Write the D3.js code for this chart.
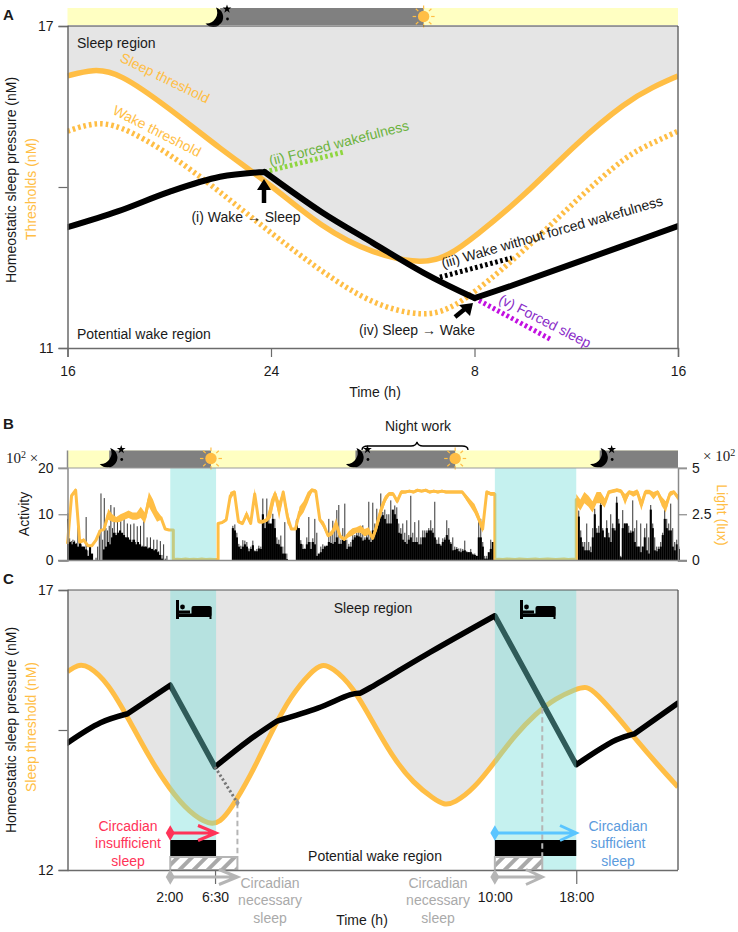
<!DOCTYPE html>
<html><head><meta charset="utf-8">
<script src="https://cdn.jsdelivr.net/npm/d3@7"></script>
<style>html,body{margin:0;padding:0;background:#fff}svg{display:block}text{font-family:"Liberation Sans",Arial,sans-serif;fill:#1a1a1a}</style>
</head><body><svg id="c" width="738" height="932"></svg>
<script>
// ---------- Panel A data (hours, nM)
const aSleepT=[16,17,18,20,22,24,26,28,30,31,32,34,36,38,39,40];
const aSleepV=[16.07,16.2,16.14,15.47,14.71,14.04,13.24,12.75,12.56,12.72,13.07,13.85,14.82,15.60,15.86,16.07];
const aWakeV=[15.04,15.2,15.17,14.63,13.91,13.14,12.42,11.8,11.58,11.72,12.03,12.83,13.76,14.6,14.82,15.04];
const aPressT=[16,18,20,22,23.75,26,28,30,32,33.5,37.7,40];
const aPressV=[13.25,13.55,13.91,14.19,14.28,13.53,12.96,12.40,11.93,12.17,12.88,13.27];
const aPressKinks=[4,8];
const forcedWakeT=[23.75,26.84],forcedWakeV=[14.28,14.65];
const noForcedT=[30.64,33.47],noForcedV=[12.32,12.68];
const forcedSleepT=[32,35.04],forcedSleepV=[11.93,11.15];
const aXTicks=[16,24,32,40],aYTicks=[17,14,11];
// ---------- Panel B data
const darkStart=[20.1,44.3,68.3],darkEnd=[30.1,54.1,76];
const sleepStart=[26.1,58],sleepEnd=[30.6,66];
const activityStep=0.1965;
const act1Start=16,act2Start=32.2,act3Start=66;
const act1Peak=[10.2,4.8,4.2,4.5,4.3,3.8,8.7,6.5,3.5,3,2.5,9.4,2.2,0,0,0,0,0.6,3,6.5,14.5,4.5,13.5,7,6.5,7.5,12,7,11.5,6,9,6,8.5,5.5,9,5,8,4.5,7.8,4.5,8,4,7.4,3.5,7.5,3.2,8.5,3,5,2.8,5,2.5,4.5,2.4,4.5,2,4.2,1.2,3.5,0.4,1];
const act1Base=[9,4,3.5,4,3.6,3,4.2,3,3,2.4,1,3,1.5,0,0,0,0,0,2.4,3,4,3.5,5,6,5.5,6,6.5,6,5.5,5,5,4.5,4,4.5,3.5,4,3.5,3,3,3,2.6,2.8,2.5,2.2,2.4,1.8,1.2,0.4,0,0,0];
const act2Peak=[7.5,7.8,6,3.6,3.2,4.4,4.3,4,2.6,3,4.3,2.2,2.5,3.2,3,13.4,8.6,13.4,9.5,
7,10.1,9,5,4.5,5.4,3,8.3,1.5,0,0,0,0,9,7,4.4,3.5,2.6,5,9.4,4,4.8,9,6,1,3,3.5,3.2,3,9,6,8.6,7,10.9,12,4.5,7,12.3,4.5,3.6,4,5.5,5.5,6,6.5,6,7.6,5,6.5,12.7,5.5,12.5,8,11.2,8,14.5,10.5,11,10,10,13,9,11.9,11.5,8,7,8,6,8.7,5.5,14,6,8.3,5,8.7,5,6.5,6.5,6.5,7,8.7,7,12.7,4.5,5,3.5,4.8,5,8.7,7,4,5,3,2.9,2.6,2.6,2.5,4.3,2,1.8,2.5,1.5,1.5,1,8.7,9,4,1,1,1,4.5,4,0];
const act2Base=[7,6.5,5,3,2.5,3,3.5,3,2,2.5,3.3,2,2,2.6,2.5,10,7,9,8,
8,9,7,3.6,3.5,3,1.5,1.5,0.3,0,0,0,0,8.7,7,3.6,2.5,2.5,3.5,4,2.5,4,3.5,1,1.5,1.8,2.5,3,3.2,4,3.8,3.6,4,5,3.6,3.6,5,4.5,2.5,3,3,4.5,5,5.4,5.2,5,4.3,4.5,5,4.5,4,6.5,6.5,7,8.5,9.5,9.8,9,8,8,8,11,10,9,6,5.8,4.5,4,3.6,4.5,5,4,4,4,3.5,3.5,5,5,6,6.5,6.5,6,5,3.6,3.6,3.2,4,4.5,5.5,4.5,3.6,2.2,2.3,2.5,2,1.8,2.1,2.2,1.8,1.8,1.8,1.3,1.2,1,5,5,3,0.4,0.4,1.8,2.5,4,0];
const act3Peak=[0,10.8,6.5,4,4,8,4,3,7,11.2,7,7.5,12.7,7,5,8.7,6,10,8,7,13.8,9,1,10.9,8,8,7.5,6.5,13,7,8.7,3,8,3,7,8,5,12,8,5,3,3,4,6,11.2,9,8,12.3,7,4,4.5,3];
const act3Base=[0,9.5,5,3,2.2,2.2,2.2,1.8,5,10,6,6,12,6.5,5,7,5,4,7,6.5,12.5,8,0.7,7,8,8,6,6,6.3,4,3,3,1.8,3,5,2.2,1.5,11,7,2.2,2,2.5,3,5.5,9,7,6.5,6.5,3,2.2,3.5,2.5];
const lightStep=0.4,lightStart=16;
const lightBreaks=[26,37,105,125];
const lightV=[0.9,3.5,3.8,1.0,1.1,0.8,0.8,1.1,1.6,1.7,2.5,2.3,2.2,2.3,2.4,2.5,2.4,2.4,2.6,2.3,3.3,2.9,2.4,2.3,1.7,1.65,
0.06,0.07,0.05,0.08,0.06,0.07,0.06,0.08,0.06,0.07,0.06,2.0,2.05,2.2,3.5,3.7,2.1,2,2.5,2.0,3.6,2.1,2.1,2.2,
2.8,3.6,2.7,3.7,2.4,1.7,1.7,2.6,2.9,3.4,3.8,3.75,2.2,1.9,1.35,1.5,2.0,1.3,1.15,1.4,1.55,1.65,1.7,1.5,1.6,1.2,1.9,2.7,3.3,3.6,3.6,3.2,3.7,
3.7,3.75,3.7,3.8,3.75,3.8,3.7,3.75,3.7,3.75,3.7,3.7,3.7,3.7,3.7,3.4,3.1,2.8,2.3,1.7,3.7,3.6,
0.06,0.07,0.06,0.08,0.07,0.06,0.08,0.07,0.06,0.07,0.08,0.06,0.07,0.08,0.07,0.06,0.07,0.08,0.06,0.07,
3.3,3.0,3.4,3.2,2.9,3.4,3.4,3.1,3.7,3.75,3.8,3.75,3.3,3.7,3.6,3.7,3.0,3.7,3.7,3.5,3.7,3.2,2.9,3.6,3.7,3.4];
const lightSpread=[.05,.1,.1,.1,.1,.05,.05,.05,.05,.05,
.3,.2,.15,.2,.2,.2,.2,.2,.3,.3,.4,.4,.3,.1,.05,.03,
0,0,0,0,0,0,0,0,0,0,0,
.03,.05,.1,.2,.1,.1,.1,.2,.1,.3,.1,.1,.1,
.5,.2,.5,.1,.4,.05,.05,.3,.3,.3,.1,.1,
.1,.2,.1,.15,.3,.1,.1,.15,.2,.15,.2,.2,.2,.1,
.3,.3,.2,.1,.1,.15,.1,
.08,.08,.08,.08,.08,.08,.08,.08,.08,.08,.08,.08,.08,.08,
.08,.15,.2,.25,.25,.2,.1,.1,
0,0,0,0,0,0,0,0,0,0,0,0,0,0,0,0,0,0,0,0,
.3,.3,.3,.3,.3,.3,.3,.25,.1,.1,.1,.1,.3,.1,.15,.15,.3,.12,.12,.2,.1,.25,.3,.15,.1,.15];
// ---------- Panel C data
const cThreshT=[16,17,18,20,22,24,26,28,30,31,32,34,36,38,40,41,42,44,46,48,50,52,53,54,56,58,60,62,64,66,67,68,70,72,74,76];
const cThreshV=[15.54,15.67,15.66,15.34,14.70,14.02,13.45,13.02,12.8,12.86,13.07,13.68,14.45,15.13,15.55,15.68,15.62,15.29,14.64,14.00,13.55,13.27,13.16,13.19,13.46,13.93,14.41,14.79,15.07,15.23,15.29,15.15,14.75,14.30,13.88,13.48];
const cPressT=[16,19.24,21.9,26.1,30.5,33.7,36.6,40.6,43.8,44.8,45.7,51.66,58,66,69.9,71.7,76];
const cPressV=[14.27,14.63,14.79,15.30,13.84,14.30,14.66,14.89,15.13,15.16,15.25,15.89,16.54,13.88,14.32,14.43,14.98];
const cPressKinks=[2,3,4,6,9,12,13,15];
const cXTicks=[26,30.5,58,66],cXLabels=["2:00","6:30","10:00","18:00"],cYTicks=[17,14.5,12];
const necT=[30.5,32.7],necV=[13.84,13.2];
const nec2T=62.66,nec2V=14.89;
// ---------- colours
const ORANGE="#FFBE45",GRAY="#E5E5E5",YEL="#FFFFC2",DK="#808080",AX="#6b6b6b";
const BAND="rgb(115,222,215)";
const svg=d3.select("#c");
const defs=svg.append("defs");
const pat=defs.append("pattern").attr("id","hatch").attr("width",10).attr("height",10).attr("patternUnits","userSpaceOnUse").attr("patternTransform","rotate(45)");
pat.append("rect").attr("width",10).attr("height",10).attr("fill","#fff");
pat.append("rect").attr("width",4).attr("height",10).attr("fill","#a9a9a9");
const L=67.5,R=678;
defs.append("clipPath").attr("id","clipA").append("rect").attr("x",L).attr("y",26).attr("width",R-L).attr("height",322);
defs.append("clipPath").attr("id","clipC").append("rect").attr("x",L).attr("y",590).attr("width",R-L).attr("height",280);
function txt(x,y,s,o={}){const t=svg.append("text").attr("x",x).attr("y",y).attr("dy","0.35em").attr("text-anchor",o.a||"middle").attr("font-size",o.s||14).text(s);
 if(o.c)t.style("fill",o.c); if(o.r!==undefined)t.attr("transform",`rotate(${o.r} ${x} ${y})`); if(o.w)t.attr("font-weight",o.w); if(o.f)t.style("font-family",o.f); return t;}
function moon(x,y){const g=svg.append("g").attr("transform",`translate(${x},${y})`);
 g.append("path").attr("d","M1,-9.5A10,10 0 1 1 -9.5,6.5A11,11 0 0 0 1,-9.5Z").attr("fill","#000");
 g.append("path").attr("d",d3.symbol(d3.symbolStar,24)()).attr("transform","translate(12,-8)").attr("fill","#000");
 g.append("circle").attr("cx",12.5).attr("cy",2).attr("r",1.4).attr("fill","#000");}
function sun(x,y){const g=svg.append("g").attr("transform",`translate(${x},${y})`);
 g.append("circle").attr("r",5.7).attr("fill",ORANGE);
 d3.range(8).forEach(i=>{const a=i*Math.PI/4;g.append("line").attr("x1",7.5*Math.cos(a)).attr("y1",7.5*Math.sin(a)).attr("x2",11*Math.cos(a)).attr("y2",11*Math.sin(a)).attr("stroke",ORANGE).attr("stroke-width",1.2);});}
function styleAxis(g,col){g.selectAll(".domain").attr("stroke",col||AX).attr("stroke-width",1.5);g.selectAll(".tick line").attr("stroke",col||AX).attr("stroke-width",1.2);g.selectAll("text").attr("font-size",14).style("fill","#1a1a1a");}
function lineOf(xs,ts,ys,vs,curve){return d3.line().x((_, i)=>xs(ts[i])).y((_, i)=>ys(vs[i])).curve(curve||d3.curveBasis)(ts);}
function areaAbove(xs,ts,ys,vs,top){return d3.area().x((_, i)=>xs(ts[i])).y0(top).y1((_, i)=>ys(vs[i])).curve(d3.curveBasis)(ts);}
function segments(xs,ts,ys,vs,kinks){const cuts=[0,...kinks,ts.length-1];let out="";
 for(let k=0;k<cuts.length-1;k++){const T=ts.slice(cuts[k],cuts[k+1]+1),V=vs.slice(cuts[k],cuts[k+1]+1);out+=lineOf(xs,T,ys,V,d3.curveCatmullRom.alpha(.5));}return out;}
function arrowTo(x0,x1,y,hx,col){svg.append("path").attr("d",`M${x0},${y}L${x1-1},${y}M${hx},${y-7.5}L${x1},${y}L${hx},${y+7.5}`).attr("fill","none").attr("stroke",col).attr("stroke-width",3);
 svg.append("path").attr("d",d3.symbol(d3.symbolDiamond,70)()).attr("transform",`translate(${x0},${y})`).attr("fill",col);}
function bed(x,y){const g=svg.append("g").attr("transform",`translate(${x},${y})`).attr("fill","#000");
 g.append("rect").attr("x",0).attr("y",0).attr("width",3).attr("height",19);
 g.append("rect").attr("x",0).attr("y",13.5).attr("width",35).attr("height",3.5);
 g.append("rect").attr("x",33.5).attr("y",7).attr("width",2).attr("height",12);
 g.append("rect").attr("x",15.5).attr("y",6).attr("width",20).attr("height",11).attr("rx",2);
 g.append("circle").attr("cx",6.5).attr("cy",7).attr("r",2.4);
 g.append("rect").attr("x",3).attr("y",10.5).attr("width",11).attr("height",3);}
function timeBar(xs,y0,y1,starts,ends){svg.append("rect").attr("x",xs.range()[0]).attr("y",y0).attr("width",xs.range()[1]-xs.range()[0]).attr("height",y1-y0).attr("fill",YEL);
 starts.forEach((s,i)=>svg.append("rect").attr("x",xs(s)).attr("y",y0).attr("width",xs(ends[i])-xs(s)).attr("height",y1-y0).attr("fill",DK));}

// ================= A
const xA=d3.scaleLinear().domain([16,40]).range([L,R]);
const yA=d3.scaleLinear().domain([11,17]).range([348,26]);
timeBar(xA,8,25,[22],[30]);
const gA=svg.append("g").attr("clip-path","url(#clipA)");
gA.append("path").attr("d",areaAbove(xA,aSleepT,yA,aSleepV,26)).attr("fill",GRAY);
gA.append("path").attr("d",lineOf(xA,aSleepT,yA,aSleepV)).attr("fill","none").attr("stroke",ORANGE).attr("stroke-width",5.5);
gA.append("path").attr("d",lineOf(xA,aSleepT,yA,aWakeV)).attr("fill","none").attr("stroke",ORANGE).attr("stroke-width",5.5).attr("stroke-dasharray","2.6 3");
const dotted=(ts,vs,c,w)=>gA.append("path").attr("d",lineOf(xA,ts,yA,vs,d3.curveLinear)).attr("fill","none").attr("stroke",c).attr("stroke-width",w||5).attr("stroke-dasharray","2.6 2.6");
dotted(forcedWakeT,forcedWakeV,"#8FD63F");dotted(noForcedT,noForcedV,"#000");dotted(forcedSleepT,forcedSleepV,"#C210E0");
gA.append("path").attr("d",segments(xA,aPressT,yA,aPressV,aPressKinks)).attr("fill","none").attr("stroke","#000").attr("stroke-width",6).attr("stroke-linejoin","round").attr("stroke-linecap","round");
moon(215,17);sun(xA(30),16.5);
const axA=svg.append("g").attr("transform",`translate(${L},0)`).call(d3.axisLeft(yA).tickValues(aYTicks).tickSize(9).tickPadding(5).tickFormat(d=>d===14?"":d));styleAxis(axA);
const axAb=svg.append("g").attr("transform","translate(0,348)").call(d3.axisBottom(xA).tickValues(aXTicks).tickSize(9).tickPadding(9).tickFormat(d=>d%24||24));styleAxis(axAb);
svg.append("line").attr("x1",R).attr("x2",R).attr("y1",26).attr("y2",348).attr("stroke",AX).attr("stroke-width",1.5);
svg.append("line").attr("x1",L).attr("x2",R).attr("y1",26).attr("y2",26).attr("stroke","#444").attr("stroke-width",1.2);
// arrows
svg.append("path").attr("d","M264,203V188").attr("stroke","#000").attr("stroke-width",4.5);
svg.append("path").attr("d","M257,190L264,179L271,190Z").attr("fill","#000");
svg.append("path").attr("d","M455,317L466,308").attr("stroke","#000").attr("stroke-width",4.5);
svg.append("path").attr("d","M459,305L473,303L470,316Z").attr("fill","#000");
txt(3,15,"A",{a:"start",s:15,w:"bold"});
txt(77,43,"Sleep region",{a:"start"});txt(77,334,"Potential wake region",{a:"start"});
txt(375,392,"Time (h)");
txt(11,180,"Homeostatic sleep pressure (nM)",{r:-90});
txt(31,189,"Thresholds (nM)",{r:-90,c:ORANGE});
txt(165,78,"Sleep threshold",{r:26,c:ORANGE});
txt(157,131,"Wake threshold",{r:27,c:ORANGE});
txt(339,143,"(ii) Forced wakefulness",{r:-14.5,c:"#6DB33F"});
txt(246,217,"(i) Wake → Sleep");
txt(552,232,"(iii) Wake without forced wakefulness",{r:-16});
txt(417,330,"(iv) Sleep → Wake");
txt(545,321,"(v) Forced sleep",{r:27,c:"#8A2BC8"});

// ================= B
const xT=d3.scaleLinear().domain([16,76]).range([L,R]);
const yB=d3.scaleLinear().domain([0,20]).range([560.5,468]);
const yL=d3.scaleLinear().domain([0,5]).range([560.5,468]);
timeBar(xT,450.5,468,darkStart,darkEnd);
const drawAct=(start,pk,bs,pkStep)=>{
 svg.append("g").selectAll("rect").data(pk).join("rect").attr("x",(d,i)=>xT(start+i*pkStep)).attr("width",1).attr("y",d=>yB(d)).attr("height",d=>yB(0)-yB(d)).attr("fill","#333");
 svg.append("g").selectAll("rect").data(bs).join("rect").attr("x",(d,i)=>xT(start+i*activityStep)-.5).attr("width",2.1).attr("y",d=>yB(d)).attr("height",d=>yB(0)-yB(d)).attr("fill","#000");};
drawAct(act1Start,act1Peak,act1Base,activityStep*(act1Base.length-4)/(act1Peak.length-4));drawAct(act2Start,act2Peak,act2Base,activityStep);drawAct(act3Start,act3Peak,act3Base,activityStep);
// light: sharp edges at sleep-band boundaries
const lightPts=[];
lightV.forEach((v,i)=>{const t=lightStart+i*lightStep;
 if(lightBreaks.includes(i))lightPts.push([t,lightV[i-1],lightSpread[i-1]]);
 lightPts.push([t,v,lightSpread[i]]);});
svg.append("path").attr("d",d3.area().x(d=>xT(d[0])).y0(d=>yL(d[1]-d[2])).y1(d=>yL(d[1]+d[2]))(lightPts)).attr("fill",ORANGE);
svg.append("path").attr("d",d3.line().x(d=>xT(d[0])).y(d=>yL(d[1]))(lightPts)).attr("fill","none").attr("stroke",ORANGE).attr("stroke-width",3).attr("stroke-linejoin","round");
sleepStart.forEach((s,i)=>svg.append("rect").attr("x",xT(s)).attr("y",468).attr("width",xT(sleepEnd[i])-xT(s)).attr("height",92.5).attr("fill",BAND).attr("opacity",.41));
darkStart.forEach(s=>moon(xT(s),457.5));darkEnd.slice(0,2).forEach(s=>sun(xT(s),458.5));
const axB=svg.append("g").attr("transform",`translate(${L},0)`).call(d3.axisLeft(yB).tickValues([0,10,20]).tickSize(9).tickPadding(5));styleAxis(axB,"#8a8a8a");
const axBr=svg.append("g").attr("transform",`translate(${R},0)`).call(d3.axisRight(yL).tickValues([0,2.5,5]).tickSize(9).tickPadding(5).tickFormat(d=>d===2.5?"2.5":d));styleAxis(axBr,"#8a8a8a");
svg.append("line").attr("x1",L).attr("x2",L).attr("y1",450.5).attr("y2",468).attr("stroke","#8a8a8a").attr("stroke-width",1.5);
svg.append("line").attr("x1",58).attr("x2",687).attr("y1",468).attr("y2",468).attr("stroke","#9a9a9a").attr("stroke-width",1);
svg.append("line").attr("x1",58).attr("x2",687).attr("y1",560.5).attr("y2",560.5).attr("stroke","#8a8a8a").attr("stroke-width",1.5);
svg.append("path").attr("d","M362,450Q362,446 368,446L411,446Q416,446 417,442Q418,446 423,446L462,446Q468,446 468,450").attr("fill","none").attr("stroke","#000").attr("stroke-width",1.3);
txt(3,424,"B",{a:"start",s:15,w:"bold"});
txt(418,426,"Night work");
txt(24,514,"Activity",{r:-90});
txt(722,515,"Light (lux)",{r:90,c:ORANGE});
const ser='"Liberation Serif",serif';
const t1=txt(6,458,"10",{a:"start",f:ser,s:15});t1.append("tspan").attr("dy","-5").attr("font-size",10).text("2");t1.append("tspan").attr("dy","5").text("  ×");
const t2=txt(703,456,"× 10",{a:"start",f:ser,s:15});t2.append("tspan").attr("dy","-5").attr("font-size",10).text("2");

// ================= C
const yC=d3.scaleLinear().domain([12,17]).range([870,590]);
const gC=svg.append("g").attr("clip-path","url(#clipC)");
gC.append("path").attr("d",areaAbove(xT,cThreshT,yC,cThreshV,590)).attr("fill",GRAY);
gC.append("path").attr("d",lineOf(xT,cThreshT,yC,cThreshV)).attr("fill","none").attr("stroke",ORANGE).attr("stroke-width",5);
gC.append("path").attr("d",segments(xT,cPressT,yC,cPressV,cPressKinks)).attr("fill","none").attr("stroke","#000").attr("stroke-width",5.5).attr("stroke-linejoin","round").attr("stroke-linecap","round");
sleepStart.forEach((s,i)=>svg.append("rect").attr("x",xT(s)).attr("y",590).attr("width",xT(sleepEnd[i])-xT(s)).attr("height",280).attr("fill",BAND).attr("opacity",.41));
// sleep bars
svg.append("rect").attr("x",xT(sleepStart[0])).attr("y",840).attr("width",xT(sleepEnd[0])-xT(sleepStart[0])).attr("height",16).attr("fill","#000");
svg.append("rect").attr("x",xT(sleepStart[1])).attr("y",840).attr("width",xT(sleepEnd[1])-xT(sleepStart[1])).attr("height",16).attr("fill","#000");
svg.append("rect").attr("x",xT(sleepStart[0])).attr("y",857).attr("width",xT(necT[1])-xT(sleepStart[0])).attr("height",13).attr("fill","url(#hatch)").attr("stroke","#b5b5b5").attr("stroke-width",2);
svg.append("rect").attr("x",xT(sleepStart[1])).attr("y",857).attr("width",xT(nec2T)-xT(sleepStart[1])).attr("height",13).attr("fill","url(#hatch)").attr("stroke","#b5b5b5").attr("stroke-width",2);
// necessary-sleep guides
svg.append("path").attr("d",lineOf(xT,necT,yC,necV,d3.curveLinear)).attr("fill","none").attr("stroke","#777").attr("stroke-width",3).attr("stroke-dasharray","2.2 2.4");
[[necT[1],necV[1]],[nec2T,nec2V]].forEach(p=>{svg.append("line").attr("x1",xT(p[0])).attr("x2",xT(p[0])).attr("y1",yC(p[1])).attr("y2",856).attr("stroke","#b5b5b5").attr("stroke-width",2).attr("stroke-dasharray","5.5 3.5");});
svg.append("path").attr("d",d3.symbol(d3.symbolDiamond,18)()).attr("transform",`translate(${xT(necT[1])},${yC(necV[1])})`).attr("fill","#999");
const axC=svg.append("g").attr("transform",`translate(${L},0)`).call(d3.axisLeft(yC).tickValues(cYTicks).tickSize(9).tickPadding(5).tickFormat(d=>d===14.5?"":d));styleAxis(axC);
const axCb=svg.append("g").attr("transform","translate(0,870)").call(d3.axisBottom(xT).tickValues(cXTicks).tickSize(14).tickPadding(8).tickFormat((d,i)=>cXLabels[i]));styleAxis(axCb);
axCb.selectAll(".domain").attr("d",`M${L},0.5H${R}`);
axCb.selectAll(".tick").filter((d,i)=>i===0||i===2).select("line").attr("opacity",0);
svg.append("line").attr("x1",R).attr("x2",R).attr("y1",590).attr("y2",870).attr("stroke",AX).attr("stroke-width",1.5);
svg.append("line").attr("x1",L).attr("x2",R).attr("y1",590).attr("y2",590).attr("stroke","#555").attr("stroke-width",1.2);
arrowTo(xT(sleepStart[0]),xT(sleepEnd[0]),833,198,"#FF3358");
arrowTo(xT(sleepStart[1]),xT(sleepEnd[1]),833,560,"#5AC5FF");
arrowTo(xT(sleepStart[0]),xT(necT[1]),877,219,"#B5B5B5");
arrowTo(xT(sleepStart[1]),xT(nec2T),877,526,"#B5B5B5");
bed(176,600);bed(520,600);
txt(3,579,"C",{a:"start",s:15,w:"bold"});
txt(373,608,"Sleep region");txt(375,856,"Potential wake region");
txt(362,920,"Time (h)");
txt(11,730,"Homeostatic sleep pressure (nM)",{r:-90});
txt(31,727,"Sleep threshold (nM)",{r:-90,c:ORANGE});
["Circadian","insufficient","sleep"].forEach((s,i)=>txt(128,826+17.5*i,s,{c:"#FF3358"}));
["Circadian","sufficient","sleep"].forEach((s,i)=>txt(618,826+17.5*i,s,{c:"#5B9BDD"}));
["Circadian","necessary","sleep"].forEach((s,i)=>{txt(270,883+17.5*i,s,{c:"#aaa"});txt(438,883+17.5*i,s,{c:"#aaa"});});
</script></body></html>
